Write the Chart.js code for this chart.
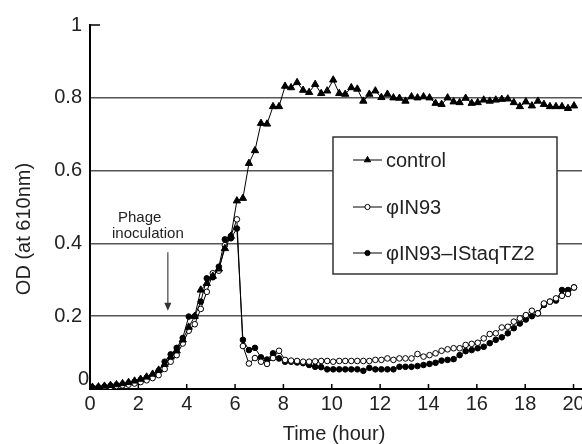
<!DOCTYPE html>
<html>
<head>
<meta charset="utf-8">
<script src="https://cdn.jsdelivr.net/npm/chart.js@4.4.1/dist/chart.umd.min.js"></script>
<style>
  html, body { margin: 0; padding: 0; background: #fff; }
  #wrap { width: 582px; height: 444px; }
</style>
</head>
<body>
<div id="wrap"><canvas id="chart"></canvas></div>
<script>
// readings every ~15 min, OD at 610 nm
const START_HOUR = 0.1;
const STEP_HOUR = 0.249;

const control = [
  0.005, 0.006, 0.008, 0.010, 0.012, 0.015, 0.018, 0.022, 0.027, 0.033,
  0.041, 0.052, 0.068, 0.088, 0.105, 0.135, 0.170, 0.200, 0.272, 0.290,
  0.310, 0.330, 0.386, 0.420, 0.517, 0.524, 0.620, 0.655, 0.730, 0.728,
  0.776, 0.776, 0.832, 0.828, 0.842, 0.821, 0.815, 0.837, 0.812, 0.819,
  0.849, 0.812, 0.810, 0.828, 0.824, 0.791, 0.810, 0.819, 0.801, 0.810,
  0.800, 0.799, 0.791, 0.803, 0.800, 0.803, 0.800, 0.785, 0.782, 0.800,
  0.789, 0.787, 0.799, 0.785, 0.787, 0.794, 0.791, 0.794, 0.796, 0.797,
  0.787, 0.776, 0.789, 0.778, 0.791, 0.782, 0.776, 0.776, 0.776, 0.771,
  0.778
];

const phiIN93 = [
  0.003, 0.004, 0.005, 0.006, 0.008, 0.010, 0.012, 0.015, 0.019, 0.024,
  0.030, 0.038, 0.055, 0.075, 0.093, 0.125, 0.160, 0.178, 0.220, 0.267,
  0.318, 0.325, 0.395, 0.420, 0.466, 0.118, 0.070, 0.085, 0.075, 0.069,
  0.085, 0.105, 0.080, 0.078, 0.077, 0.075, 0.075, 0.076, 0.077, 0.077,
  0.075, 0.077, 0.077, 0.077, 0.077, 0.077, 0.077, 0.080, 0.080, 0.084,
  0.080, 0.084, 0.084, 0.084, 0.096, 0.089, 0.093, 0.098, 0.105, 0.109,
  0.112, 0.112, 0.121, 0.124, 0.127, 0.139, 0.151, 0.153, 0.169, 0.171,
  0.185, 0.194, 0.203, 0.215, 0.208, 0.235, 0.240, 0.249, 0.256, 0.261,
  0.279
];

const phiIN93IS = [
  0.004, 0.005, 0.007, 0.009, 0.011, 0.013, 0.016, 0.020, 0.025, 0.031,
  0.038, 0.050, 0.075, 0.095, 0.113, 0.140, 0.199, 0.200, 0.240, 0.304,
  0.307, 0.336, 0.411, 0.414, 0.441, 0.135, 0.107, 0.113, 0.087, 0.081,
  0.098, 0.084, 0.075, 0.075, 0.073, 0.071, 0.066, 0.061, 0.060, 0.054,
  0.054, 0.054, 0.054, 0.054, 0.054, 0.050, 0.058, 0.054, 0.054, 0.054,
  0.054, 0.061, 0.061, 0.061, 0.063, 0.066, 0.069, 0.072, 0.078, 0.080,
  0.082, 0.093, 0.104, 0.107, 0.112, 0.116, 0.126, 0.135, 0.142, 0.153,
  0.167, 0.180, 0.191, 0.200, 0.208, 0.231, 0.240, 0.243, 0.272, 0.272,
  0.279
];

const seriesNames = ['control', 'φIN93', 'φIN93–IStaqTZ2'];
const xTicks = [0, 2, 4, 6, 8, 10, 12, 14, 16, 18, 20];
const yTicks = [0, 0.2, 0.4, 0.6, 0.8, 1];

const times = control.map((_, i) => +(START_HOUR + i * STEP_HOUR).toFixed(3));

const FONT = "'Liberation Sans', Arial, Helvetica, sans-serif";
const INK = '#222';

function toPoints(values) {
    return values.map((v, i) => ({ x: times[i], y: v }));
}

const styles = [
    { pointStyle: 'triangle', pointRadius: 4.2, fill: '#000' },
    { pointStyle: 'circle', pointRadius: 2.8, fill: '#fff' },
    { pointStyle: 'circle', pointRadius: 2.8, fill: '#000' },
];

const decor = {
    id: 'decor',
    afterDraw(chart) {
        const { ctx, chartArea: a, scales: { x, y } } = chart;
        ctx.save();

        // inward tick marks
        ctx.strokeStyle = '#000';
        ctx.lineWidth = 1.5;
        ctx.beginPath();
        xTicks.slice(1).forEach(v => {
            const px = x.getPixelForValue(v);
            ctx.moveTo(px, a.bottom);
            ctx.lineTo(px, a.bottom - 5);
        });
        const top = y.getPixelForValue(1);
        ctx.moveTo(a.left, top);
        ctx.lineTo(a.left + 10, top);
        ctx.stroke();

        ctx.fillStyle = INK;
        ctx.font = `20px ${FONT}`;
        ctx.textAlign = 'right';
        ctx.textBaseline = 'middle';
        ctx.fillText('0', a.left - 1, y.getPixelForValue(0) - 10);

        // axis titles
        ctx.textAlign = 'center';
        ctx.fillText('Time (hour)', 334, 434);
        ctx.save();
        ctx.translate(24, 229);
        ctx.rotate(-Math.PI / 2);
        ctx.fillText('OD (at 610nm)', 0, 0);
        ctx.restore();

        // phage inoculation arrow
        const ax = x.getPixelForValue(3.22);
        const ay0 = y.getPixelForValue(0.376);
        const ay1 = y.getPixelForValue(0.215);
        ctx.strokeStyle = '#444';
        ctx.fillStyle = '#333';
        ctx.lineWidth = 1.2;
        ctx.beginPath();
        ctx.moveTo(ax, ay0);
        ctx.lineTo(ax, ay1 - 6);
        ctx.stroke();
        ctx.beginPath();
        ctx.moveTo(ax - 3.5, ay1 - 8);
        ctx.lineTo(ax + 3.5, ay1 - 8);
        ctx.lineTo(ax, ay1);
        ctx.closePath();
        ctx.fill();

        ctx.fillStyle = INK;
        ctx.font = `15px ${FONT}`;
        ctx.textAlign = 'left';
        ctx.textBaseline = 'alphabetic';
        ctx.fillText('Phage', 118, y.getPixelForValue(0.46));
        ctx.fillText('inoculation', 112, y.getPixelForValue(0.415));

        // legend box
        ctx.fillStyle = '#fff';
        ctx.fillRect(333, 137, 224, 137);
        ctx.strokeStyle = '#333';
        ctx.lineWidth = 1.5;
        ctx.strokeRect(333, 137, 224, 137);

        const rows = [160, 207, 253];
        seriesNames.forEach((name, i) => {
            const ry = rows[i];
            ctx.strokeStyle = '#000';
            ctx.lineWidth = 1;
            ctx.beginPath();
            ctx.moveTo(353, ry);
            ctx.lineTo(382, ry);
            ctx.stroke();
            ctx.fillStyle = styles[i].fill;
            Chart.helpers.drawPoint(ctx, {
                pointStyle: styles[i].pointStyle,
                radius: i === 0 ? 3.6 : 2.6,
                rotation: 0,
                borderWidth: 1,
            }, 367.5, ry);
            ctx.fillStyle = INK;
            ctx.font = `20px ${FONT}`;
            ctx.textAlign = 'left';
            ctx.textBaseline = 'middle';
            ctx.fillText(name, 386, ry + 1);
        });

        ctx.restore();
    }
};

const ctx = document.getElementById('chart');

new Chart(ctx, {
    type: 'line',
    data: {
        datasets: [control, phiIN93, phiIN93IS].map((values, i) => ({
            label: seriesNames[i],
            data: toPoints(values),
            borderColor: '#000',
            borderWidth: 1,
            tension: 0,
            pointStyle: styles[i].pointStyle,
            pointRadius: styles[i].pointRadius,
            pointBackgroundColor: styles[i].fill,
            pointBorderColor: '#000',
            pointBorderWidth: 1,
        })),
    },
    options: {
        animation: false,
        responsive: true,
        maintainAspectRatio: false,
        layout: { autoPadding: false, padding: { top: 25, right: 0, left: 0, bottom: 0 } },
        plugins: {
            legend: { display: false },
            tooltip: { enabled: false },
        },
        scales: {
            x: {
                type: 'linear',
                min: 0,
                max: 20.35,
                afterBuildTicks: s => { s.ticks = xTicks.map(v => ({ value: v })); },
                afterFit: s => {
                    s.height = 55;
                    s.paddingLeft = 0;
                    s.paddingRight = 0;
                },
                grid: { display: false, drawTicks: false },
                border: { display: true, color: '#000', width: 2 },
                ticks: {
                    padding: 3,
                    color: INK,
                    font: { family: FONT, size: 20 },
                    maxRotation: 0,
                    autoSkip: false,
                },
            },
            y: {
                min: 0,
                max: 1,
                afterBuildTicks: s => { s.ticks = yTicks.map(v => ({ value: v })); },
                afterFit: s => {
                    s.width = 90;
                    s.paddingTop = 0;
                    s.paddingBottom = 0;
                },
                grid: {
                    color: c => (c.tick.value > 0 && c.tick.value < 1) ? '#555' : 'rgba(0,0,0,0)',
                    lineWidth: 1.5,
                    drawTicks: false,
                },
                border: { display: true, color: '#000', width: 2 },
                ticks: {
                    padding: 8,
                    color: INK,
                    font: { family: FONT, size: 20 },
                    callback: v => v === 0 ? '' : String(v),
                },
            },
        },
    },
    plugins: [decor],
});
</script>
</body>
</html>
